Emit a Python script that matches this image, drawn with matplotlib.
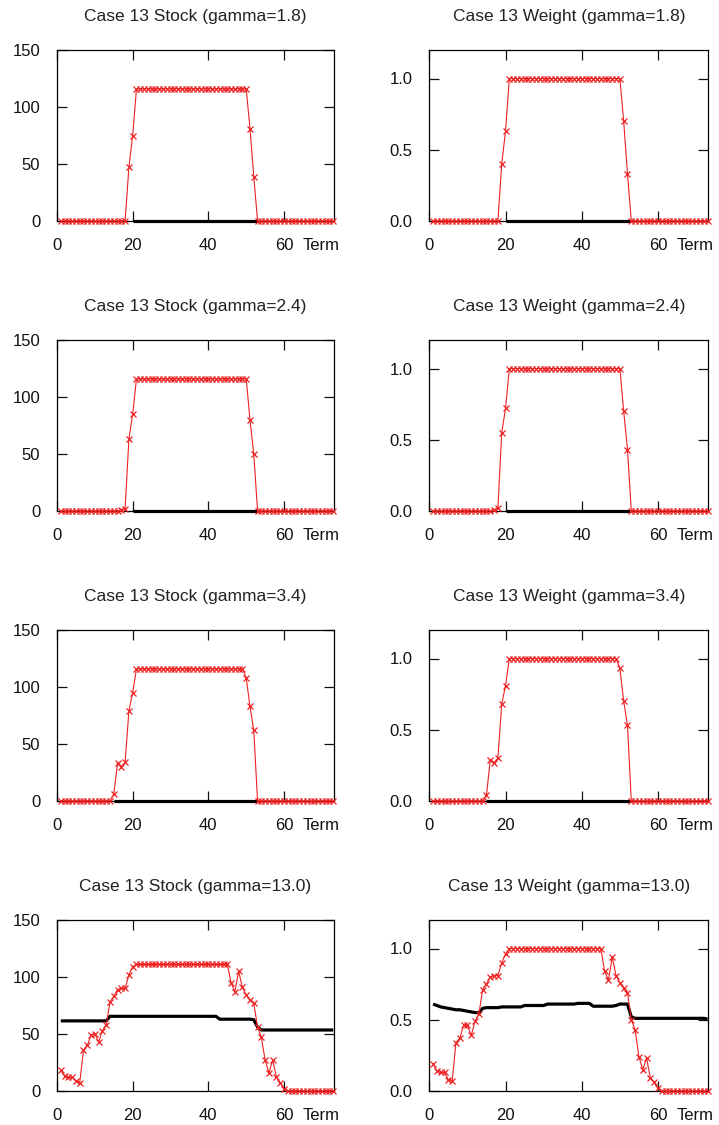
import numpy as np
import matplotlib
matplotlib.use('Agg')
import matplotlib.pyplot as plt

plt.rcParams['font.family'] = ['Liberation Sans', 'DejaVu Sans']

nan = np.nan
terms = np.arange(1, 74)
gammas = ['1.8', '2.4', '3.4', '13.0']

# red curves (value per term 1..73)
stockRed = {
    '1.8': [0]*18 + [47, 75] + [116]*30 + [81, 39] + [0]*21,
    '2.4': [0]*16 + [1, 2, 63, 85] + [116]*30 + [80, 50] + [0]*21,
    '3.4': [0]*14 + [6, 33, 30, 34, 79, 95] + [116]*29 + [108, 83, 62] + [0]*21,
    '13.0': [18, 13, 12, 12, 9, 7, 36, 40, 49, 50, 43, 53, 58, 78, 83, 89, 90, 90, 102, 109]
            + [111]*25
            + [95, 87, 105, 91, 84, 80, 77, 56, 47, 27, 16, 27, 12, 7, 2]
            + [0]*13,
}
weightRed = {
    '1.8': [0]*18 + [0.40, 0.63] + [1.0]*30 + [0.70, 0.33] + [0]*21,
    '2.4': [0]*16 + [0.01, 0.02, 0.55, 0.72] + [1.0]*30 + [0.70, 0.43] + [0]*21,
    '3.4': [0]*14 + [0.04, 0.29, 0.27, 0.30, 0.68, 0.81] + [1.0]*29 + [0.93, 0.70, 0.53] + [0]*21,
    '13.0': [0.19, 0.14, 0.13, 0.13, 0.08, 0.07, 0.34, 0.37, 0.46, 0.46, 0.39, 0.49, 0.54, 0.71,
             0.75, 0.80, 0.81, 0.81, 0.90, 0.96]
            + [1.0]*25
            + [0.84, 0.78, 0.94, 0.81, 0.76, 0.72, 0.69, 0.50, 0.43, 0.24, 0.15, 0.23, 0.09, 0.06, 0.02]
            + [0]*13,
}

# black curves (nan = not drawn)
stockBlack = {
    '1.8': [nan]*19 + [0]*34 + [nan]*20,
    '2.4': [nan]*19 + [0]*34 + [nan]*20,
    '3.4': [nan]*14 + [0]*39 + [nan]*20,
    '13.0': [61.5]*13 + [65.5]*29 + [63]*9 + [62.5, 56] + [53.5]*20,
}
weightBlack = {
    '1.8': [nan]*19 + [0]*34 + [nan]*20,
    '2.4': [nan]*19 + [0]*34 + [nan]*20,
    '3.4': [nan]*14 + [0]*39 + [nan]*20,
    '13.0': [0.61, 0.60, 0.59, 0.585, 0.58, 0.575, 0.57, 0.57, 0.565, 0.56, 0.555, 0.55, 0.55, 0.58]
            + [0.585]*4 + [0.59]*6 + [0.60]*6 + [0.61]*8 + [0.615]*4 + [0.595]*6
            + [0.60] + [0.61]*3 + [0.52] + [0.51]*19 + [0.505],
}

xTicks = [0, 20, 40, 60]
stockTicks = [0, 50, 100, 150]
stockTickLabels = ['0', '50', '100', '150']
weightTicks = [0, 0.5, 1.0]
weightTickLabels = ['0.0', '0.5', '1.0']


def drawPanel(ax, title, red, black, ylim, yticks, ylabels):
    ax.plot(terms, black, color='black', lw=2.3, solid_capstyle='butt', clip_on=False, zorder=2)
    ax.plot(terms, red, color='#ee2222', lw=0.8, marker='x', ms=5, mew=0.9, clip_on=False, zorder=3)
    ax.set_xlim(0, 73.2)
    ax.set_ylim(*ylim)
    ax.set_xticks(xTicks)
    ax.set_yticks(yticks)
    ax.set_yticklabels(ylabels)
    ax.tick_params(direction='in', length=7, width=0.9, top=True, right=True,
                   labelsize=12, pad=12, colors='#111111')
    for s in ax.spines.values():
        s.set_linewidth(0.9)
    ax.set_title(title, fontsize=12.5, pad=21, color='#222222')
    ax.text(0.888, -0.1, 'Term', transform=ax.transAxes, ha='left', va='top', fontsize=12, color='#111111')


fig = plt.figure(figsize=(7.19, 11.25), dpi=100)
W, H = 719, 1125
for row, g in enumerate(gammas):
    top = 50 + 290*row
    axS = fig.add_axes([57/W, 1 - (top + 171)/H, 277/W, 171/H])
    drawPanel(axS, f'Case 13 Stock (gamma={g})', stockRed[g], stockBlack[g], (0, 150),
              stockTicks, stockTickLabels)
    axW = fig.add_axes([429.3/W, 1 - (top + 171)/H, 279/W, 171/H])
    drawPanel(axW, f'Case 13 Weight (gamma={g})', weightRed[g], weightBlack[g], (0, 1.2),
              weightTicks, weightTickLabels)

fig.savefig('out.png', dpi=100)
